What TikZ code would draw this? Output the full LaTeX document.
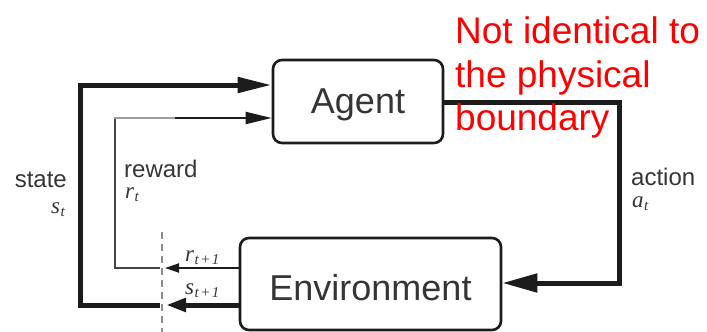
\documentclass[tikz,border=0pt]{standalone}
\usepackage{fontspec}
\setmainfont{Liberation Sans}
\newfontfamily\lserif{Liberation Serif}
\usetikzlibrary{arrows.meta}
\definecolor{ink}{HTML}{1C1C1C}
\definecolor{labelgray}{HTML}{353535}
\definecolor{paleline}{HTML}{9C9C9C}
\definecolor{midline}{HTML}{454545}
\definecolor{cutgray}{HTML}{8E8E8E}
\definecolor{notered}{HTML}{FF0000}
% italic serif symbol with a subscript
\newcommand{\sym}[2]{{\lserif\itshape\fontsize{23}{23}\selectfont #1}\kern0.5pt\raisebox{-3pt}{\lserif\itshape\fontsize{15}{15}\selectfont #2}}
\begin{document}
\begin{tikzpicture}[x=1pt,y=-1pt,
  block/.style={draw=ink, line width=2.6pt, rounded corners=9pt,
    font=\fontsize{36}{36}\selectfont, text=labelgray, inner sep=0pt},
  heavy/.style={draw=ink, line width=5pt},
  light/.style={draw=ink, line width=2pt},
  word/.style={font=\fontsize{24}{24}\selectfont, text=labelgray, inner sep=0pt},
  symb/.style={text=labelgray, inner sep=0pt},
  note/.style={font=\fontsize{37}{37}\selectfont, text=notered, inner sep=0pt}
]
\useasboundingbox (0,0) rectangle (707,332);

% the two blocks
\node[block, minimum width=170pt, minimum height=83pt,
      text height=26pt, text depth=3pt] (agent) at (358,101.5) {Agent};
\node[block, minimum width=261pt, minimum height=92pt,
      text height=32pt, text depth=0pt] (env) at (370.5,284) {Environment};

% corner points of the loops
\coordinate (sCut) at (160,305);
\coordinate (sTip) at (166,305);
\coordinate (sBL)  at (80,305);
\coordinate (sTL)  at (80,85);
\coordinate (rCut) at (160,268);
\coordinate (rTip) at (165,268);
\coordinate (rBL)  at (115,268);
\coordinate (rTL)  at (115,118);
\coordinate (rMid) at (175,118);
\coordinate (aTR)  at (619,102);
\coordinate (aBR)  at (619,283);
\coordinate (cutTop) at (162,232);
\coordinate (cutBot) at (162,332);

% time-step boundary
\draw[cutgray, line width=2pt, dash pattern=on 7pt off 5pt] (cutTop) -- (cutBot);

% state loop
\draw[heavy, -{Triangle[length=34pt,width=15pt]}]
  (sCut) -- (sBL) -- (sTL) -- (agent.west |- sTL);
\draw[heavy, -{Triangle[length=20pt,width=13pt]}] (env.west |- sCut) -- (sTip);

% reward loop
\draw[midline, line width=2pt] (rCut) -- (rBL) -- (rTL);
\draw[paleline, line width=2pt] ([xshift=-1pt]rTL) -- (rMid);
\draw[light, -{Triangle[length=26pt,width=12pt]}] (rMid) -- (agent.west |- rMid);
\draw[light, -{Triangle[length=14pt,width=9pt]}] (env.west |- rCut) -- (rTip);

% action
\draw[heavy, -{Triangle[length=35pt,width=18pt]}]
  (agent.east |- aTR) -- (aTR) -- (aBR) -- (env.east |- aBR);

% labels
\node[word, anchor=base east] (stateword) at (67,187) {state};
\node[symb, anchor=base east] (statesym) at (65,213) {\sym{s}{t}};
\node[word, anchor=base west] (rewardword) at (124,177) {reward};
\node[symb, anchor=base west] (rewardsym) at (125,198) {\sym{r}{t}};
\node[word, anchor=base west] (actionword) at (631,185) {action};
\node[symb, anchor=base west] (actionsym) at (632,207) {\sym{a}{t}};
\node[symb, anchor=base west] (rnext) at (185,261) {\sym{r}{t\kern1.5pt+\kern1.5pt1}};
\node[symb, anchor=base west] (snext) at (185,294) {\sym{s}{t\kern1.5pt+\kern1.5pt1}};

% note
\node[note, anchor=base west] (note1) at (455,43) {Not identical to};
\node[note, anchor=base west] (note2) at (455,87) {the physical};
\node[note, anchor=base west] (note3) at (455,130) {boundary};
\end{tikzpicture}
\end{document}
